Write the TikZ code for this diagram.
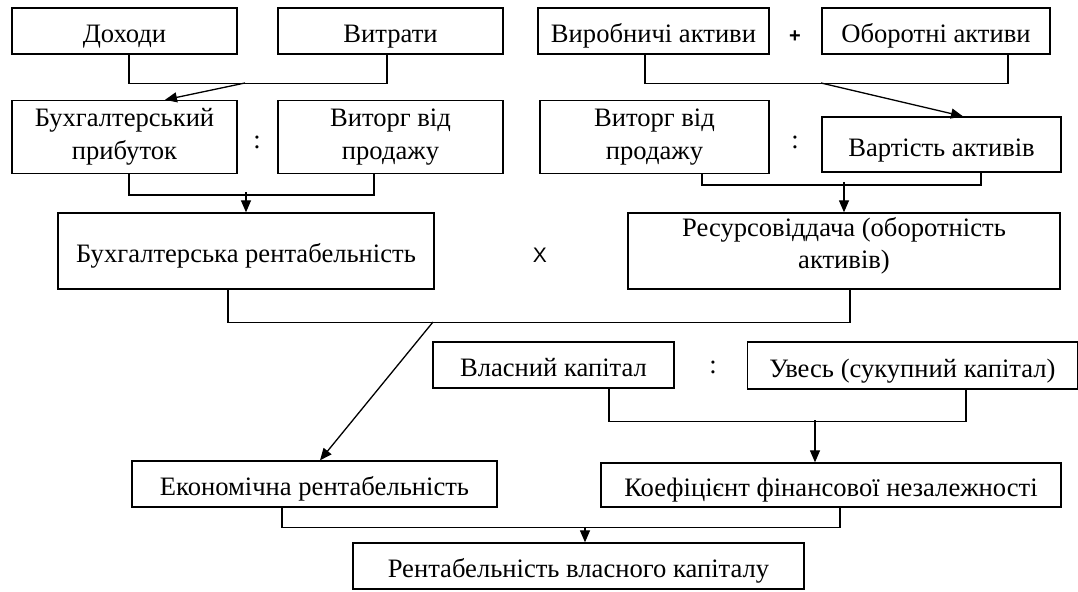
\documentclass[tikz,border=0pt]{standalone}
\usepackage{fontspec}
\setmainfont{Liberation Serif}
\newfontfamily\sansx{Liberation Sans}
\usetikzlibrary{arrows.meta}
\usetikzlibrary{calc}
\usetikzlibrary{positioning}

\begin{document}
\begin{tikzpicture}[x=0.5pt,y=-0.5pt,
		blok/.style 2 args={draw,line width=0.65pt,inner sep=1pt,align=center,
			minimum width=#1,minimum height=#2,font=\fontsize{13.3}{16.3}\selectfont},
		odyn/.style={text height=12.5pt,text depth=0.7pt},
		znak/.style={font=\fontsize{13.3}{15}\selectfont},
		lin/.style={line width=0.65pt},
		arr/.style={line width=0.65pt,-{Triangle[length=6pt,width=5pt]}}]
		\useasboundingbox (0,0) rectangle (1078,592);
		% rows of boxes
		\node[blok={112.5pt}{23pt},odyn] (dohody) at (124.5,31) {Доходи};
		\node[blok={112.5pt}{23pt},odyn] (vytraty) at (390.5,31) {Витрати};
		\node[blok={115.5pt}{23pt},odyn] (vyrobn) at (653.5,31) {Виробничі активи};
		\node[blok={114pt}{23pt},odyn] (oborot) at (936,31) {Оборотні активи};
		\node[font=\sansx\bfseries\fontsize{10}{12}\selectfont] (plus) at (795,37) {+};
		\node[blok={112.5pt}{36.5pt}] (prybutok) at (124.5,137) {Бухгалтерський\\прибуток};
		\node[blok={112.5pt}{36.5pt}] (vytorgA) at (390.5,137) {Виторг від\\продажу};
		\node[znak] (dilA) at (257,142) {:};
		\node[blok={114.5pt}{36.5pt}] (vytorgB) at (654.5,137) {Виторг від\\продажу};
		\node[blok={119.5pt}{27.5pt},odyn] (vartist) at (941.5,144.5) {Вартість активів};
		\node[znak] (dilB) at (795,142) {:};
		\node[blok={188pt}{38pt},odyn] (bukhrent) at (246,251) {Бухгалтерська рентабельність};
		\node[font=\sansx\fontsize{10.5}{12}\selectfont] (mnoz) at (540,255) {X};
		\node[blok={216pt}{38pt},text height=21pt,text depth=3pt] (resurs) at (844,251) {Ресурсовіддача (оборотність\\активів)};
		\node[blok={120.5pt}{23pt},odyn] (vlasnyi) at (553.5,365) {Власний капітал};
		\node[znak] (dilC) at (713,367) {:};
		\node[blok={165pt}{23.5pt},odyn] (uves) at (912.5,365.5) {Увесь (сукупний капітал)};
		\node[blok={182.5pt}{23pt},odyn] (ekonom) at (314.5,484) {Економічна рентабельність};
		\node[blok={230pt}{22pt},odyn] (koef) at (831,485) {Коефіцієнт фінансової незалежності};
		\node[blok={225.5pt}{23pt},odyn] (rvk) at (578.5,566) {Рентабельність власного капіталу};
		% joints
		\coordinate (jA) at (245,83);
		\coordinate (jB) at (821,83);
		\coordinate (jC) at (433,322);
		% connectors
		\draw[lin] ($(dohody.south)+(4.5,0)$) -- ++(0,29) -| ($(vytraty.south)+(-3.5,0)$);
		\draw[arr] (jA) -- ($(prybutok.north)+(40.5,0)$);
		\draw[lin] ($(vyrobn.south)+(-8.5,0)$) -- ++(0,29) -| ($(oborot.south)+(72,0)$);
		\draw[arr] (jB) -- ($(vartist.north)+(21.5,0)$);
		\draw[lin] ($(prybutok.south)+(4.5,0)$) -- ++(0,21) -| ($(vytorgA.south)+(-16.5,0)$);
		\draw[arr] ($(bukhrent.north)+(0,-20)$) -- (bukhrent.north);
		\draw[lin] ($(vytorgB.south)+(47.5,0)$) -- ++(0,11) -| ($(vartist.south)+(39.5,0)$);
		\draw[arr] ($(resurs.north)+(0,-30)$) -- (resurs.north);
		\draw[lin] ($(bukhrent.south)+(-18,0)$) -- ++(0,33) -| ($(resurs.south)+(6,0)$);
		\draw[arr] (jC) -- ($(ekonom.north)+(5.5,0)$);
		\draw[lin] ($(vlasnyi.south)+(55.5,0)$) -- ++(0,33) -| ($(uves.south)+(53.5,0)$);
		\draw[arr] ($(koef.north)+(-16,-42)$) -- ($(koef.north)+(-16,0)$);
		\draw[lin] ($(ekonom.south)+(-32.5,0)$) -- ++(0,20) -| ($(koef.south)+(9,0)$);
		\draw[arr] ($(rvk.north)+(6.5,-15)$) -- ($(rvk.north)+(6.5,0)$);
	\end{tikzpicture}
\end{document}
